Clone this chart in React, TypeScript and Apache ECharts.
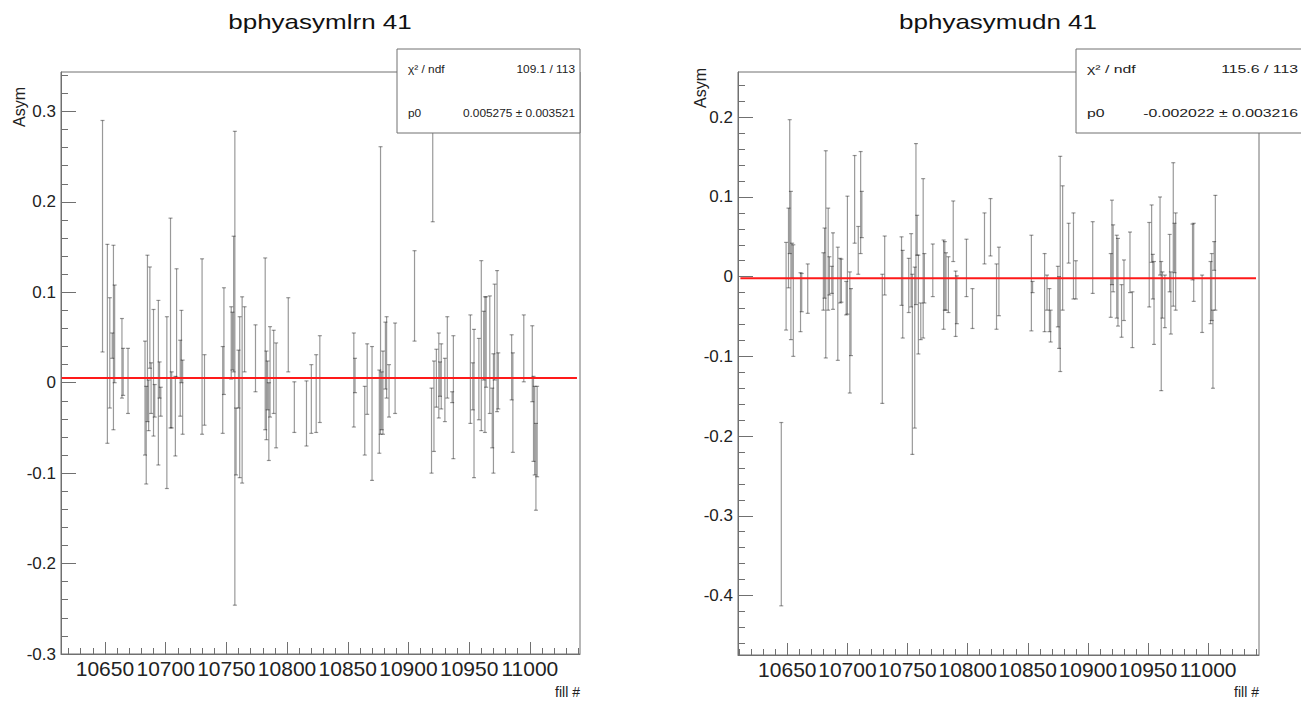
import React, { useEffect, useRef } from "react";
import * as echarts from "echarts";

// ---------- data: left panel (bphyasymlrn 41) ----------
const leftFills = [
  10648, 10652, 10654, 10656, 10657, 10658, 10664, 10665, 10669, 10683,
  10684, 10685, 10686, 10687, 10688, 10690, 10691, 10694, 10695, 10696,
  10701, 10704, 10705, 10708, 10709, 10712, 10713, 10714, 10730, 10732,
  10747, 10748, 10754, 10755, 10756, 10757, 10758, 10760, 10761, 10763,
  10765, 10774, 10782, 10783, 10784, 10785, 10786, 10789, 10791, 10801,
  10806, 10816, 10820, 10824, 10827, 10855, 10856, 10864, 10866, 10870,
  10876, 10877, 10878, 10879, 10881, 10882, 10884, 10889, 10905, 10919,
  10920, 10921, 10923, 10925, 10926, 10927, 10930, 10932, 10936, 10937,
  10951, 10953, 10954, 10958, 10960, 10962, 10963, 10964, 10967, 10969,
  10970, 10971, 10973, 10974, 10985, 10986, 10995, 11002, 11003, 11004,
  11005, 11006,
];
const leftValues = [
  0.162, 0.043, 0.033, 0.041, 0.05, 0.054, 0.027, 0.012, 0.002, -0.017,
  -0.058, 0.049, -0.025, 0.072, -0.006, 0.011, -0.02, 0.0, 0.003, -0.021,
  -0.022, 0.066, -0.019, -0.037, 0.066, 0.005, 0.04, -0.016, 0.04, -0.008,
  -0.008, 0.046, 0.044, 0.046, 0.087, 0.016, -0.065, 0.004, -0.016, -0.008,
  0.048, 0.027, 0.043, -0.014, -0.003, -0.043, 0.012, 0.012, -0.014, 0.053,
  -0.027, -0.034, -0.018, -0.012, 0.004, 0.003, 0.008, -0.042, 0.004, -0.034,
  -0.032, 0.102, -0.02, -0.011, 0.03, 0.028, -0.009, 0.016, 0.096, -0.053,
  0.234, -0.026, 0.005, 0.008, 0.004, 0.007, -0.008, 0.028, -0.016, -0.016,
  0.015, -0.004, -0.023, 0.004, 0.041, 0.041, 0.02, 0.045, 0.031, -0.039,
  -0.034, 0.056, 0.046, 0.002, 0.017, -0.022, 0.038, 0.021, -0.04, -0.053,
  -0.093, -0.054,
];
const leftErrors = [
  0.128, 0.11, 0.061, 0.014, 0.102, 0.054, 0.044, 0.026, 0.036, 0.063,
  0.054, 0.092, 0.028, 0.056, 0.028, 0.07, 0.018, 0.091, 0.02, 0.016,
  0.095, 0.116, 0.031, 0.044, 0.06, 0.042, 0.04, 0.041, 0.097, 0.039,
  0.048, 0.059, 0.04, 0.032, 0.075, 0.262, 0.037, 0.032, 0.089, 0.103,
  0.036, 0.037, 0.095, 0.049, 0.027, 0.043, 0.05, 0.046, 0.058, 0.041,
  0.028, 0.036, 0.038, 0.043, 0.048, 0.052, 0.019, 0.038, 0.039, 0.074,
  0.046, 0.159, 0.032, 0.046, 0.037, 0.045, 0.029, 0.05, 0.05, 0.047,
  0.056, 0.05, 0.032, 0.047, 0.019, 0.036, 0.035, 0.045, 0.006, 0.068,
  0.06, 0.026, 0.082, 0.045, 0.094, 0.038, 0.075, 0.05, 0.065, 0.033,
  0.066, 0.053, 0.078, 0.031, 0.036, 0.055, 0.037, 0.042, 0.047, 0.049,
  0.048, 0.05,
];

// ---------- data: right panel (bphyasymudn 41) ----------
const rightFills = [
  10645, 10649, 10651, 10652, 10653, 10654, 10655, 10661, 10662, 10667,
  10680, 10681, 10682, 10684, 10685, 10687, 10688, 10692, 10694, 10695,
  10699, 10700, 10702, 10703, 10706, 10709, 10711, 10712, 10729, 10731,
  10745, 10746, 10751, 10753, 10754, 10756, 10757, 10758, 10759, 10761,
  10763, 10764, 10771, 10780, 10781, 10782, 10784, 10788, 10790, 10791,
  10799, 10804, 10814, 10819, 10824, 10826, 10853, 10854, 10864, 10866,
  10868, 10869, 10875, 10876, 10877, 10879, 10884, 10888, 10890, 10904,
  10919, 10920, 10921, 10924, 10925, 10928, 10930, 10935, 10937, 10951,
  10953, 10954, 10955, 10960, 10961, 10962, 10964, 10968, 10969, 10971,
  10972, 10973, 10987, 10988, 10995, 11002, 11003, 11004, 11005, 11006,
];
const rightValues = [
  -0.298, -0.012, 0.036, 0.113, 0.014, 0.02, -0.03, -0.032, -0.02, -0.015,
  -0.006, 0.017, 0.028, 0.022, 0.001, -0.004, 0.007, -0.034, -0.005, -0.005,
  -0.027, 0.027, -0.07, -0.057, 0.097, 0.033, 0.093, 0.078, -0.078, 0.014,
  0.007, -0.022, -0.011, 0.008, -0.11, -0.089, 0.066, 0.052, -0.035, -0.056,
  0.023, -0.002, 0.008, -0.01, 0.001, -0.006, -0.01, 0.057, -0.034, -0.029,
  0.011, -0.04, 0.048, 0.062, -0.025, -0.006, -0.008, -0.013, -0.02, -0.02,
  -0.042, -0.062, -0.025, -0.045, 0.016, 0.036, 0.042, 0.026, -0.004, 0.024,
  -0.011, 0.043, 0.023, 0.0, -0.007, -0.043, -0.017, 0.018, -0.054, 0.015,
  0.054, 0.0, -0.033, 0.051, -0.062, -0.023, -0.031, 0.017, -0.033, 0.053,
  0.036, 0.019, 0.031, 0.018, -0.034, -0.02, -0.013, -0.091, 0.026, 0.03,
];
const rightErrors = [
  0.115, 0.055, 0.05, 0.084, 0.093, 0.022, 0.07, 0.037, 0.024, 0.031,
  0.036, 0.044, 0.13, 0.064, 0.024, 0.017, 0.048, 0.071, 0.028, 0.027,
  0.021, 0.074, 0.076, 0.042, 0.055, 0.03, 0.064, 0.029, 0.081, 0.037,
  0.043, 0.055, 0.034, 0.046, 0.113, 0.101, 0.101, 0.025, 0.062, 0.023,
  0.1, 0.031, 0.033, 0.056, 0.043, 0.036, 0.035, 0.038, 0.041, 0.03,
  0.036, 0.025, 0.032, 0.036, 0.041, 0.043, 0.06, 0.007, 0.049, 0.022,
  0.027, 0.02, 0.038, 0.045, 0.135, 0.078, 0.025, 0.054, 0.024, 0.045,
  0.04, 0.053, 0.042, 0.052, 0.055, 0.033, 0.038, 0.038, 0.035, 0.053,
  0.036, 0.028, 0.052, 0.049, 0.081, 0.029, 0.033, 0.036, 0.039, 0.09,
  0.031, 0.061, 0.035, 0.049, 0.036, 0.039, 0.042, 0.049, 0.018, 0.072,
];

// ---------- fit results & tick labels ----------
const leftFit = { chi2: "109.1 / 113", p0: 0.005275, p0err: 0.003521 };
const rightFit = { chi2: "115.6 / 113", p0: -0.002022, p0err: 0.003216 };
const xTickLabels = [10650, 10700, 10750, 10800, 10850, 10900, 10950, 11000];
const leftYTickLabels = [-0.3, -0.2, -0.1, 0, 0.1, 0.2, 0.3];
const rightYTickLabels = [-0.4, -0.3, -0.2, -0.1, 0, 0.1, 0.2];
const titles = ["bphyasymlrn 41", "bphyasymudn 41"];

// axis ranges
const leftX = [10613.8, 11041.3];
const leftY = [-0.3, 0.3436];
const rightX = [10609, 11042.3];
const rightY = [-0.4747, 0.2568];

function minorSteps(lo: number, hi: number, step: number, majors: number[]) {
  const out: number[] = [];
  const n0 = Math.ceil(lo / step - 1e-9);
  const n1 = Math.floor(hi / step + 1e-9);
  for (let n = n0; n <= n1; n++) {
    const v = Math.round(n * step * 1000) / 1000;
    if (!majors.some((m) => Math.abs(m - v) < 1e-6)) out.push(v);
  }
  return out;
}

const AXIS_COLOR = "#707070";
const FONT = "Liberation Sans, Arial, Helvetica, sans-serif";

function errorRenderItem(params: any, api: any) {
  const x = api.value(0);
  const v = api.value(1);
  const e = api.value(2);
  const top = api.coord([x, v + e]);
  const bot = api.coord([x, v - e]);
  const style = { stroke: "rgba(0,0,0,0.4)", lineWidth: 1.2 };
  return {
    type: "group",
    children: [
      { type: "line", shape: { x1: top[0], y1: top[1], x2: bot[0], y2: bot[1] }, style },
      { type: "line", shape: { x1: top[0] - 2, y1: top[1], x2: top[0] + 2, y2: top[1] }, style },
      { type: "line", shape: { x1: bot[0] - 2, y1: bot[1], x2: bot[0] + 2, y2: bot[1] }, style },
    ],
  };
}

function xAxes(grid: number, range: number[]) {
  const minors = minorSteps(range[0], range[1], 10, xTickLabels);
  return [
    {
      type: "value", gridIndex: grid, position: "bottom", min: range[0], max: range[1],
      axisLine: { show: true, onZero: false, lineStyle: { color: AXIS_COLOR } },
      axisTick: { show: true, inside: true, length: 12, customValues: xTickLabels, lineStyle: { color: AXIS_COLOR } },
      axisLabel: { customValues: xTickLabels, formatter: (v: number) => String(v), fontSize: 21, fontFamily: FONT, color: "#222", margin: 4 },
      splitLine: { show: false },
    },
    {
      type: "value", gridIndex: grid, position: "bottom", min: range[0], max: range[1],
      axisLine: { show: false, onZero: false },
      axisTick: { show: true, inside: true, length: 6, customValues: minors, lineStyle: { color: AXIS_COLOR } },
      axisLabel: { show: false },
      splitLine: { show: false },
    },
  ];
}

function yAxes(grid: number, range: number[], majors: number[]) {
  const minors = minorSteps(range[0], range[1], 0.02, majors);
  return [
    {
      type: "value", gridIndex: grid, position: "left", min: range[0], max: range[1],
      axisLine: { show: true, onZero: false, lineStyle: { color: AXIS_COLOR } },
      axisTick: { show: true, inside: true, length: 15, customValues: majors, lineStyle: { color: AXIS_COLOR } },
      axisLabel: {
        customValues: majors,
        formatter: (v: number) => String(Math.round(v * 10) / 10),
        fontSize: 17, fontFamily: FONT, color: "#222", margin: 5,
      },
      splitLine: { show: false },
    },
    {
      type: "value", gridIndex: grid, position: "left", min: range[0], max: range[1],
      axisLine: { show: false, onZero: false },
      axisTick: { show: true, inside: true, length: 7, customValues: minors, lineStyle: { color: AXIS_COLOR } },
      axisLabel: { show: false },
      splitLine: { show: false },
    },
  ];
}

function statsBox(x: number, w: number, right: number, fit: any, fs: number, sx: number) {
  const fmt = (n: number) => n.toFixed(6);
  const base = { fontSize: fs, fontFamily: FONT, fill: "#222", textVerticalAlign: "middle" };
  return [
    { type: "rect", z: 100, shape: { x, y: 49, width: w, height: 84 }, style: { fill: "#fff", stroke: AXIS_COLOR, lineWidth: 1 } },
    { type: "text", z: 101, x: x + 11, y: 69, scaleX: sx, style: { ...base, text: "χ² / ndf", textAlign: "left" } },
    { type: "text", z: 101, x: right, y: 69, scaleX: sx, style: { ...base, text: fit.chi2, textAlign: "right" } },
    { type: "text", z: 101, x: x + 11, y: 113, scaleX: sx, style: { ...base, text: "p0", textAlign: "left" } },
    { type: "text", z: 101, x: right, y: 113, scaleX: sx, style: { ...base, text: fmt(fit.p0) + " ± " + fmt(fit.p0err), textAlign: "right" } },
  ];
}

export default function App() {
  const ref = useRef<HTMLDivElement>(null);
  useEffect(() => {
    if (!ref.current) return;
    const chart = echarts.init(ref.current, undefined, { renderer: "svg" });
    const leftData = leftFills.map((f, i) => [f, leftValues[i], leftErrors[i]]);
    const rightData = rightFills.map((f, i) => [f, rightValues[i], rightErrors[i]]);
    chart.setOption({
      animation: false,
      backgroundColor: "#fff",
      grid: [
        { left: 61, top: 72, width: 519, height: 582, show: true, borderColor: AXIS_COLOR, borderWidth: 1, backgroundColor: "transparent" },
        { left: 738, top: 72, width: 521, height: 583, show: true, borderColor: AXIS_COLOR, borderWidth: 1, backgroundColor: "transparent" },
      ],
      xAxis: [...xAxes(0, leftX), ...xAxes(1, rightX)],
      yAxis: [...yAxes(0, leftY, leftYTickLabels), ...yAxes(1, rightY, rightYTickLabels)],
      series: [
        { type: "custom", xAxisIndex: 0, yAxisIndex: 0, renderItem: errorRenderItem, data: leftData, clip: true, encode: { x: 0, y: [1, 2] } },
        { type: "custom", xAxisIndex: 2, yAxisIndex: 2, renderItem: errorRenderItem, data: rightData, clip: true, encode: { x: 0, y: [1, 2] } },
        {
          type: "line", xAxisIndex: 0, yAxisIndex: 0, showSymbol: false, symbol: "none", z: 5,
          lineStyle: { color: "#ff1a1a", width: 2 },
          data: [[leftX[0] + 0.5, leftFit.p0], [leftX[1] - 2.5, leftFit.p0]],
        },
        {
          type: "line", xAxisIndex: 2, yAxisIndex: 2, showSymbol: false, symbol: "none", z: 5,
          lineStyle: { color: "#ff1a1a", width: 2 },
          data: [[rightX[0] + 2, rightFit.p0], [rightX[1] - 2.5, rightFit.p0]],
        },
      ],
      graphic: [
        { type: "text", z: 100, x: 320, y: 22, scaleX: 1.3, style: { text: titles[0], fontSize: 20, fontFamily: FONT, fill: "#111", textAlign: "center", textVerticalAlign: "middle" } },
        { type: "text", z: 100, x: 998, y: 22, scaleX: 1.3, style: { text: titles[1], fontSize: 20, fontFamily: FONT, fill: "#111", textAlign: "center", textVerticalAlign: "middle" } },
        ...statsBox(397, 183, 575, leftFit, 11, 1.08),
        ...statsBox(1076, 230, 1298, rightFit, 11, 1.44),
        { type: "text", z: 100, x: 19, y: 107, rotation: Math.PI / 2, style: { text: "Asym", fontSize: 16, fontFamily: FONT, fill: "#222", textAlign: "center", textVerticalAlign: "middle" } },
        { type: "text", z: 100, x: 700, y: 88, rotation: Math.PI / 2, style: { text: "Asym", fontSize: 16, fontFamily: FONT, fill: "#222", textAlign: "center", textVerticalAlign: "middle" } },
        { type: "text", z: 100, x: 580, y: 692, style: { text: "fill #", fontSize: 14, fontFamily: FONT, fill: "#222", textAlign: "right", textVerticalAlign: "middle" } },
        { type: "text", z: 100, x: 1259, y: 692, style: { text: "fill #", fontSize: 14, fontFamily: FONT, fill: "#222", textAlign: "right", textVerticalAlign: "middle" } },
      ],
    });
    return () => chart.dispose();
  }, []);
  return <div ref={ref} style={{ position: "fixed", left: 0, top: 0, width: 1301, height: 708 }} />;
}
